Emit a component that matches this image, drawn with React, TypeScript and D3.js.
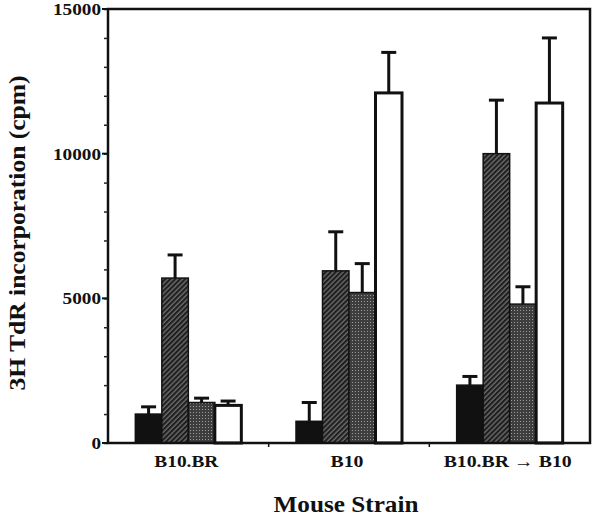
import React, { useEffect, useRef } from 'react';
import * as d3 from 'd3';

// mouse strains on the x axis
const strains = ['B10.BR', 'B10', 'B10.BR \u2192 B10'];
// the four bars in each group, left to right
const seriesKeys = ['solid', 'hatched', 'stippled', 'open'];
// mean cpm per strain, one array per bar type
const solidMeans = [1000, 750, 2000];
const hatchedMeans = [5700, 5950, 10000];
const stippledMeans = [1400, 5200, 4800];
const openMeans = [1300, 12100, 11750];
// upper error bar lengths (cpm)
const solidErr = [250, 650, 300];
const hatchedErr = [800, 1350, 1850];
const stippledErr = [150, 1000, 600];
const openErr = [150, 1400, 2250];
const yTicks = [0, 5000, 10000, 15000];

const App = () => {
    const svgRef = useRef();

    useEffect(() => {
        const svg = d3.select(svgRef.current);
        svg.selectAll('*').remove();
        const width = 600;
        const height = 525;
        const margin = { top: 9, right: 10, bottom: 82, left: 108 };
        const font = '"Liberation Serif", "Times New Roman", Times, serif';

        const means = [solidMeans, hatchedMeans, stippledMeans, openMeans];
        const errs = [solidErr, hatchedErr, stippledErr, openErr];
        const rows = [];
        strains.forEach((s, i) => {
            seriesKeys.forEach((k, j) => {
                rows.push({ strain: s, key: k, value: means[j][i], err: errs[j][i] });
            });
        });

        const x = d3
            .scaleBand()
            .domain(strains)
            .range([margin.left, width - margin.right])
            .padding(0);
        const groupW = 106;
        const xInner = d3.scaleBand().domain(seriesKeys).range([0, groupW]).padding(0);
        const y = d3
            .scaleLinear()
            .domain([0, 15000])
            .range([height - margin.bottom, margin.top]);

        // fill patterns
        const defs = svg.append('defs');
        const hatch = defs
            .append('pattern')
            .attr('id', 'hatch')
            .attr('patternUnits', 'userSpaceOnUse')
            .attr('width', 3.5)
            .attr('height', 3.5)
            .attr('patternTransform', 'rotate(45)');
        hatch.append('rect').attr('width', 3.5).attr('height', 3.5).attr('fill', '#1e1e1e');
        hatch.append('line').attr('x1', 1).attr('x2', 1).attr('y1', 0).attr('y2', 3.5)
            .attr('stroke', '#8a8a8a').attr('stroke-width', 1);

        const stipple = defs
            .append('pattern')
            .attr('id', 'stipple')
            .attr('patternUnits', 'userSpaceOnUse')
            .attr('width', 3)
            .attr('height', 3);
        stipple.append('rect').attr('width', 3).attr('height', 3).attr('fill', '#3e3e3e');
        stipple.append('rect').attr('x', 1).attr('y', 1).attr('width', 1).attr('height', 1).attr('fill', '#9a9a9a');

        const fills = { solid: '#111', hatched: 'url(#hatch)', stippled: 'url(#stipple)', open: '#fff' };

        const bx = (d) => x(d.strain) + (x.bandwidth() - groupW) / 2 + xInner(d.key);

        // error bars (drawn first so the bar outline covers the stem base)
        const eb = svg.append('g').attr('stroke', '#111').attr('stroke-width', 3);
        rows.forEach((d) => {
            const cx = bx(d) + xInner.bandwidth() / 2;
            eb.append('line').attr('x1', cx).attr('x2', cx).attr('y1', y(d.value)).attr('y2', y(d.value + d.err));
            eb.append('line').attr('x1', cx - 7.5).attr('x2', cx + 7.5)
                .attr('y1', y(d.value + d.err)).attr('y2', y(d.value + d.err));
        });

        svg.append('g')
            .selectAll('rect')
            .data(rows)
            .enter()
            .append('rect')
            .attr('x', bx)
            .attr('y', (d) => y(d.value))
            .attr('width', xInner.bandwidth())
            .attr('height', (d) => y(0) - y(d.value))
            .attr('fill', (d) => fills[d.key])
            .attr('stroke', '#111')
            .attr('stroke-width', (d) => (d.key === 'open' ? 3 : 1.5));

        // frame
        svg.append('rect')
            .attr('x', margin.left)
            .attr('y', margin.top)
            .attr('width', width - margin.left - margin.right)
            .attr('height', y(0) - margin.top)
            .attr('fill', 'none')
            .attr('stroke', '#111')
            .attr('stroke-width', 2.5);

        // y axis
        const yAxis = svg.append('g').attr('transform', `translate(${margin.left},0)`);
        yAxis.call(d3.axisLeft(y).tickValues(d3.range(0, 15001, 1000)).tickSize(4).tickFormat(''))
            .call((g) => g.select('.domain').remove())
            .call((g) => g.selectAll('line').attr('stroke', '#222').attr('stroke-width', 1.5));
        yAxis.call((g) =>
            g.selectAll('.major')
                .data(yTicks)
                .enter()
                .append('line')
                .attr('x1', -6)
                .attr('x2', 0)
                .attr('y1', (d) => y(d))
                .attr('y2', (d) => y(d))
                .attr('stroke', '#111')
                .attr('stroke-width', 2)
        );
        yAxis.selectAll('.lbl')
            .data(yTicks)
            .enter()
            .append('text')
            .attr('x', -7)
            .attr('y', (d) => y(d))
            .attr('dy', '0.35em')
            .attr('text-anchor', 'end')
            .attr('font-family', font)
            .attr('font-weight', 'bold')
            .attr('font-size', 17)
            .attr('textLength', (d) => String(d).length * 9.6)
            .attr('lengthAdjust', 'spacingAndGlyphs')
            .attr('fill', '#111')
            .text((d) => d);

        // x axis ticks at band edges
        svg.append('g')
            .selectAll('line')
            .data(strains.slice(1))
            .enter()
            .append('line')
            .attr('x1', (d) => x(d))
            .attr('x2', (d) => x(d))
            .attr('y1', y(0))
            .attr('y2', y(0) + 4)
            .attr('stroke', '#111')
            .attr('stroke-width', 1.5);

        const catWidths = [64, 33, 128];
        svg.append('g')
            .selectAll('text')
            .data(strains)
            .enter()
            .append('text')
            .attr('x', (d) => x(d) + x.bandwidth() / 2 - 2)
            .attr('y', 467)
            .attr('text-anchor', 'middle')
            .attr('font-family', font)
            .attr('font-weight', 'bold')
            .attr('font-size', 17)
            .attr('textLength', (d, i) => catWidths[i])
            .attr('lengthAdjust', 'spacingAndGlyphs')
            .attr('fill', '#111')
            .text((d) => d);

        // axis titles
        svg.append('text')
            .attr('x', 346)
            .attr('y', 512)
            .attr('text-anchor', 'middle')
            .attr('font-family', font)
            .attr('font-weight', 'bold')
            .attr('font-size', 23)
            .attr('textLength', 145)
            .attr('lengthAdjust', 'spacingAndGlyphs')
            .attr('fill', '#111')
            .text('Mouse Strain');

        svg.append('text')
            .attr('transform', 'translate(25,233) rotate(-90)')
            .attr('text-anchor', 'middle')
            .attr('font-family', font)
            .attr('font-weight', 'bold')
            .attr('font-size', 24)
            .attr('textLength', 315)
            .attr('lengthAdjust', 'spacingAndGlyphs')
            .attr('fill', '#111')
            .text('3H TdR incorporation (cpm)');
    }, []);

    return (
        <svg
            ref={svgRef}
            width={600}
            height={525}
            style={{ position: 'absolute', left: 0, top: 0, background: '#fff' }}
        />
    );
};

export default App;
